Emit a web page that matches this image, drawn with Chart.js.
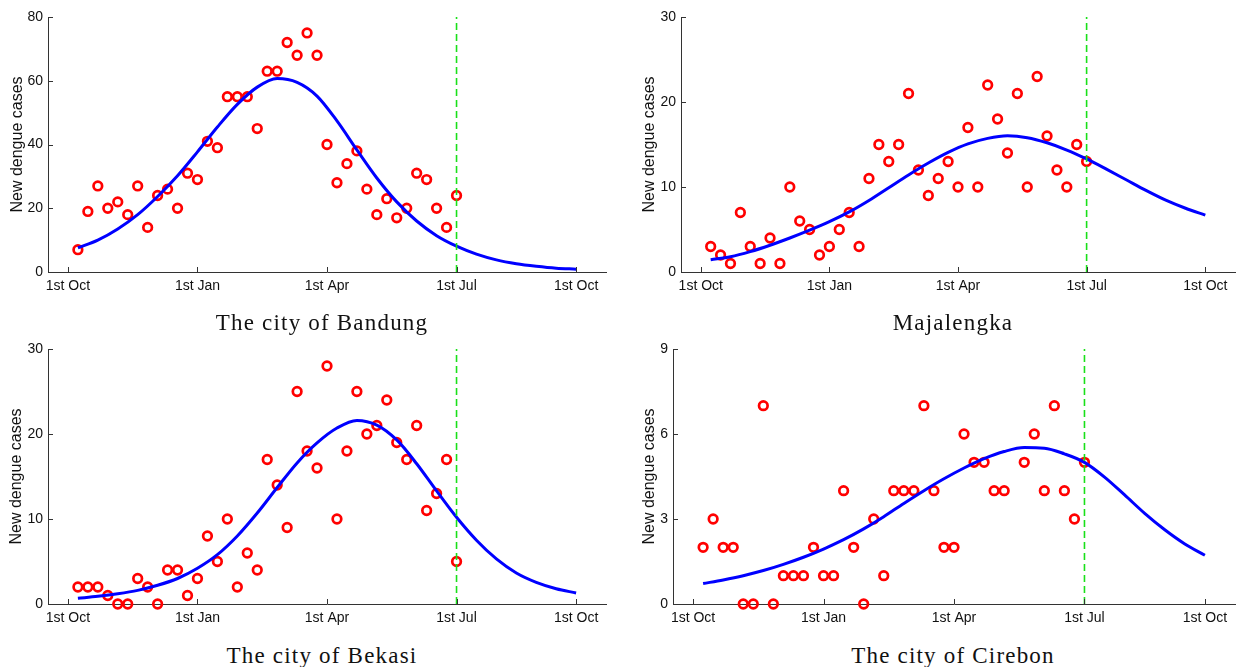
<!DOCTYPE html>
<html>
<head>
<meta charset="utf-8">
<script src="https://cdn.jsdelivr.net/npm/chart.js@4.4.1/dist/chart.umd.min.js"></script>
<style>
html,body{margin:0;padding:0;background:#fff;overflow:hidden;width:1242px;height:667px}
canvas{position:absolute}
.ttl{position:absolute;width:400px;text-align:center;font-family:'Liberation Serif','Times New Roman',serif;font-size:23px;line-height:1;letter-spacing:1.2px;color:#111;white-space:nowrap}
</style>
</head>
<body>
<canvas id="c1" width="620" height="300" style="left:0px;top:0px"></canvas>
<canvas id="c2" width="609" height="300" style="left:633px;top:0px"></canvas>
<canvas id="c3" width="620" height="300" style="left:0px;top:332px"></canvas>
<canvas id="c4" width="617" height="300" style="left:625px;top:332px"></canvas>
<div class="ttl" style="left:122px;top:311px">The city of Bandung</div>
<div class="ttl" style="left:753px;top:311px">Majalengka</div>
<div class="ttl" style="left:122px;top:644px">The city of Bekasi</div>
<div class="ttl" style="left:753px;top:644px">The city of Cirebon</div>
<script>
// ---- data ----
const weeks = [0,1,2,3,4,5,6,7,8,9,10,11,12,13,14,15,16,17,18,19,20,21,22,23,24,25,26,27,28,29,30,31,32,33,34,35,36,37,38];
const fitWeeks = [0,2,4,6,8,10,12,14,16,18,20,22,24,26,28,30,32,34,36,38,40,42,44,46,48,50];
const tickWeeks = [-1,12,25,38,50];
const tickLabels = ['1st Oct','1st Jan','1st Apr','1st Jul','1st Oct'];
const julWeek = 38;

const bandungCases = [7,19,27,20,22,18,27,14,24,26,20,31,29,41,39,55,55,55,45,63,63,72,68,75,68,40,28,34,38,26,18,23,17,20,31,29,20,14,24];
const bandungFit = [7.6,10.0,13.5,18.0,23.7,30.2,37.7,45.5,52.6,58.0,60.7,59.5,55.2,47.4,38.3,29.5,22.0,16.0,11.4,8.1,5.6,3.8,2.6,1.8,1.2,0.9];

const majalengkaCases = [3,2,1,7,3,1,4,1,10,6,5,2,3,5,7,3,11,15,13,15,21,12,9,11,13,10,17,10,22,18,14,21,10,23,16,12,10,15,13];
const majalengkaFit = [1.45,1.8,2.4,3.15,4.0,4.92,5.92,7.07,8.42,9.92,11.42,12.82,14.07,15.07,15.72,16.02,15.8,15.2,14.35,13.3,12.1,10.85,9.6,8.45,7.5,6.7];

const bekasiCases = [2,2,2,1,0,0,3,2,0,4,4,1,3,8,5,10,2,6,4,17,14,9,25,18,16,28,10,18,25,20,21,24,19,17,21,11,13,17,5];
const bekasiFit = [0.67,0.9,1.2,1.6,2.2,3.0,4.2,5.8,8.0,10.7,13.7,16.6,18.95,20.7,21.6,21.05,19.3,16.5,13.3,10.2,7.5,5.3,3.65,2.55,1.8,1.3];

const cirebonCases = [2,3,2,2,0,0,7,0,1,1,1,2,1,1,4,2,0,3,1,4,4,4,7,4,2,2,6,5,5,4,4,null,5,6,4,7,4,3,5];
const cirebonFit = [0.72,0.85,1.0,1.18,1.4,1.65,1.94,2.27,2.65,3.08,3.55,4.0,4.42,4.8,5.13,5.38,5.52,5.5,5.3,5.0,4.48,3.85,3.2,2.62,2.12,1.72];

const yTitle = 'New dengue cases';

// ---- drawing ----
Chart.defaults.font.family = "'Liberation Sans', Arial, sans-serif";
Chart.defaults.color = '#111';

const inwardTicks = {
  id: 'inwardTicks',
  afterDraw(chart) {
    const {ctx, chartArea: a, scales: {x, y}} = chart;
    ctx.save();
    ctx.strokeStyle = '#333';
    ctx.lineWidth = 1;
    ctx.beginPath();
    x.ticks.forEach(t => {
      const px = Math.round(x.getPixelForValue(t.value)) + 0.5;
      ctx.moveTo(px, a.bottom); ctx.lineTo(px, a.bottom - 5);
    });
    y.ticks.forEach(t => {
      const py = Math.round(y.getPixelForValue(t.value)) + 0.5;
      ctx.moveTo(a.left, py); ctx.lineTo(a.left + 5, py);
    });
    ctx.stroke();
    ctx.restore();
  }
};

function zeroPad(scale) {
  scale.paddingTop = 0; scale.paddingBottom = 0;
  scale.paddingLeft = 0; scale.paddingRight = 0;
}

function makePanel(id, cases, fit, yMax, yStep, yTitlePad, padRight) {
  const pts = weeks.map((w, i) => ({x: w, y: cases[i]}));
  const curve = fitWeeks.map((w, i) => ({x: w, y: fit[i]}));
  const jul = [{x: julWeek, y: 0}, {x: julWeek, y: yMax}];
  new Chart(document.getElementById(id), {
    type: 'scatter',
    data: {
      datasets: [
        {data: jul, showLine: true, borderColor: '#19e019', borderWidth: 1.6, borderDash: [7, 4],
         pointRadius: 0, order: 1},
        {data: curve, showLine: true, borderColor: '#0000ff', borderWidth: 3, pointRadius: 0,
         cubicInterpolationMode: 'monotone', order: 2},
        {data: pts, pointStyle: 'circle', pointRadius: 4.3, borderWidth: 2.7, borderColor: '#ff0000',
         backgroundColor: 'rgba(0,0,0,0)', showLine: false, clip: 8, order: 3}
      ]
    },
    options: {
      responsive: false,
      animation: false,
      events: [],
      layout: {padding: {left: 0, right: padRight, top: 17, bottom: 0}},
      plugins: {legend: {display: false}, tooltip: {enabled: false}, title: {display: false}},
      scales: {
        x: {
          type: 'linear', min: -3, max: 53,
          grid: {display: false, drawTicks: false},
          border: {display: true, color: '#333', width: 1},
          afterBuildTicks: s => { s.ticks = tickWeeks.map(v => ({value: v})); },
          afterFit: s => { s.height = 28; zeroPad(s); },
          ticks: {autoSkip: false, maxRotation: 0, padding: 6, font: {size: 14}, color: '#111',
                  callback: (v, i) => tickLabels[i]}
        },
        y: {
          type: 'linear', min: 0, max: yMax,
          grid: {display: false, drawTicks: false},
          border: {display: true, color: '#333', width: 1},
          afterFit: s => { s.width = 48; zeroPad(s); },
          ticks: {stepSize: yStep, padding: 5, font: {size: 14}, color: '#111'},
          title: {display: true, text: yTitle, font: {size: 16}, color: '#111',
                  padding: {top: yTitlePad, bottom: 0}}
        }
      }
    },
    plugins: [inwardTicks]
  });
}

makePanel('c1', bandungCases, bandungFit, 80, 20, 7.9, 14);
makePanel('c2', majalengkaCases, majalengkaFit, 30, 10, 7.4, 3);
makePanel('c3', bekasiCases, bekasiFit, 30, 10, 7.4, 14);
makePanel('c4', cirebonCases, cirebonFit, 9, 3, 15.4, 3);
</script>
</body>
</html>
